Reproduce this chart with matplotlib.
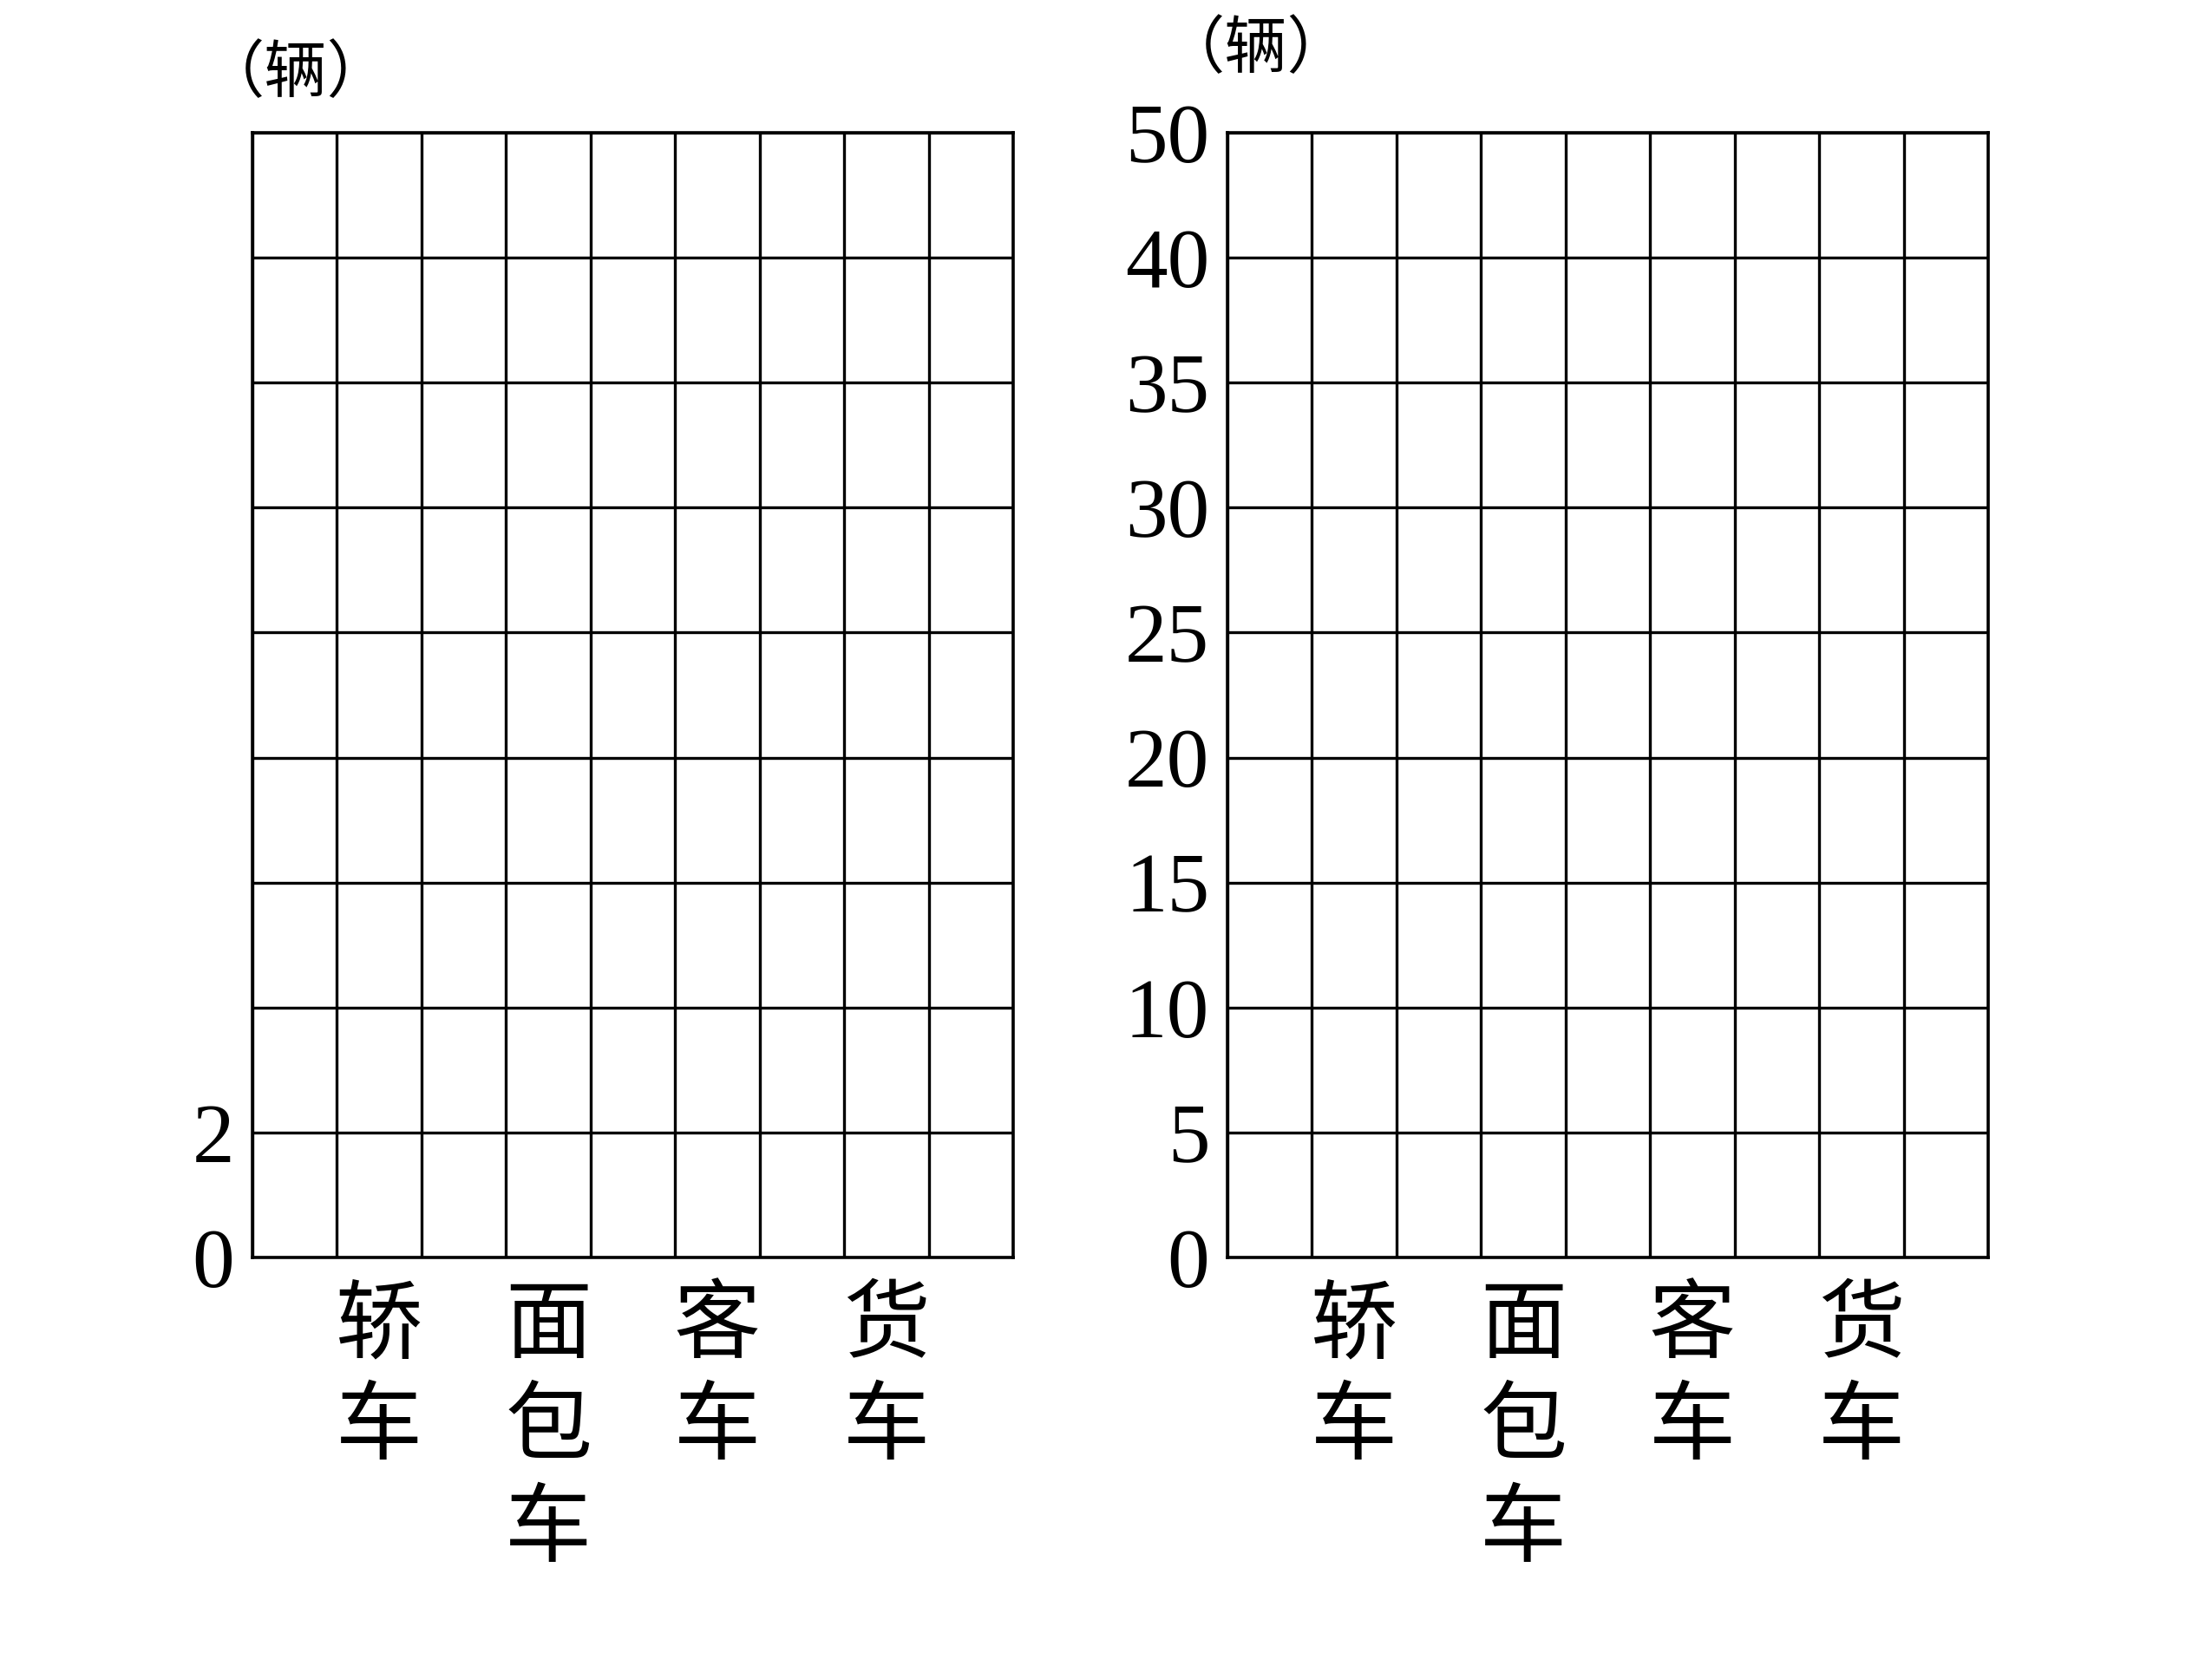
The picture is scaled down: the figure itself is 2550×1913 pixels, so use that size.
import matplotlib
matplotlib.use('Agg')
from matplotlib import pyplot as plt

# two blank grids for a bar chart exercise: 9 columns x 9 rows each
categories = ['轿车', '面包车', '客车', '货车']
cat_pos = [1.5, 3.5, 5.5, 7.5]
n_cols = 9
n_rows = 9
left_ylabels = ['0', '2', '', '', '', '', '', '', '', '']
right_ylabels = ['0', '5', '10', '15', '20', '25', '30', '35', '40', '50']
unit = '（辆）'

cjk = ['Noto Sans CJK SC', 'DejaVu Sans']
num_font = 'Liberation Serif'

fig = plt.figure(figsize=(25.5, 19.13), dpi=100)


def draw_grid(ax, ylabels):
    ax.set_xlim(0, n_cols)
    ax.set_ylim(0, n_rows)
    ax.set_xticks(range(n_cols + 1), minor=True)
    ax.set_yticks(range(n_rows + 1))
    ax.set_yticklabels(ylabels, fontfamily=num_font, fontsize=70)
    ax.set_xticks(cat_pos)
    ax.set_xticklabels(['\n'.join(c) for c in categories], family=cjk,
                       fontsize=72, va='top', linespacing=1.17)
    ax.grid(True, which='minor', axis='x', color='black', lw=2.4)
    ax.grid(True, which='major', axis='y', color='black', lw=2.4)
    ax.tick_params(axis='both', which='both', length=0)
    ax.tick_params(axis='y', pad=15)
    ax.tick_params(axis='x', pad=20)
    for s in ax.spines.values():
        s.set_linewidth(2.6)


ax1 = fig.add_axes([291 / 2550, 1 - 1450 / 1913, 877 / 2550, 1297 / 1913])
draw_grid(ax1, left_ylabels)
fig.text(341 / 2550, 1 - 86 / 1913, unit, family=cjk, fontsize=52,
         ha='center', va='center')

ax2 = fig.add_axes([1415 / 2550, 1 - 1450 / 1913, 877 / 2550, 1297 / 1913])
draw_grid(ax2, right_ylabels)
fig.text(1448 / 2550, 1 - 58 / 1913, unit, family=cjk, fontsize=52,
         ha='center', va='center')

fig.savefig('out.png', dpi=100, facecolor='white')
